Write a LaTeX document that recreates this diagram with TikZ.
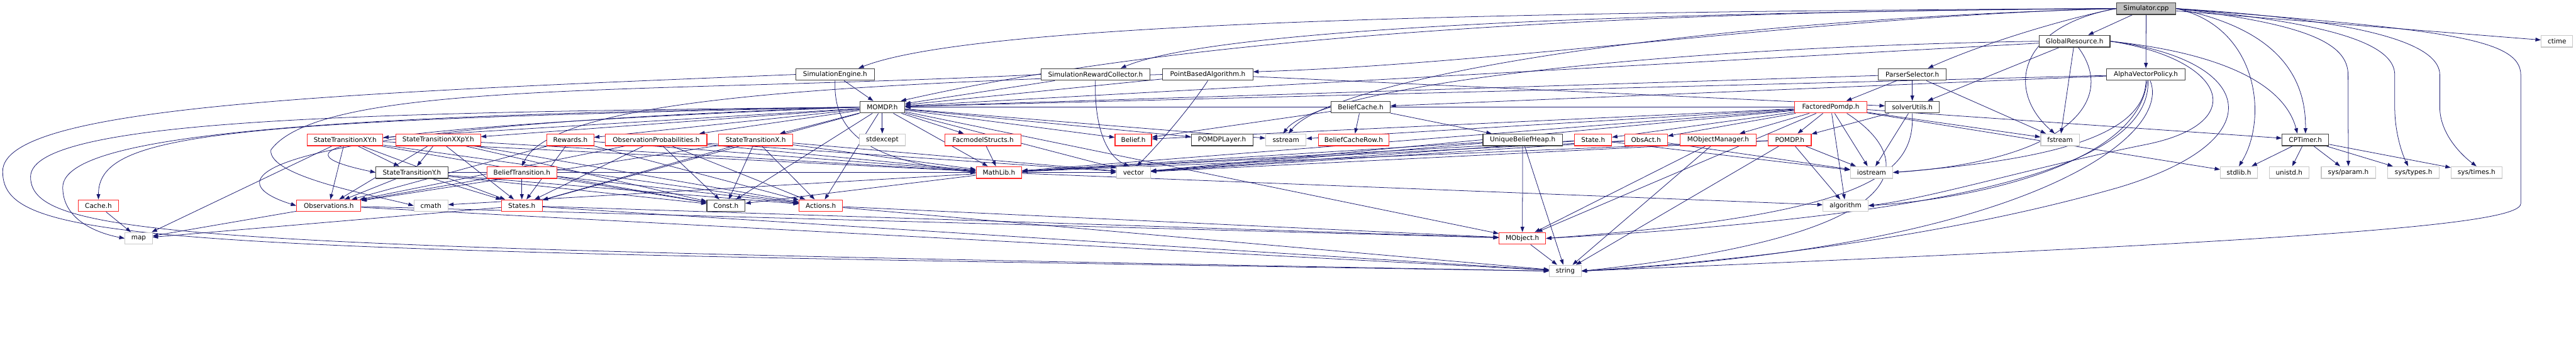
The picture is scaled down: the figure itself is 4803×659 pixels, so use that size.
\documentclass[tikz,border=0pt]{standalone}
\usepackage{fontspec}
\setmainfont{DejaVu Sans}
\usepackage{tikz}
\usetikzlibrary{arrows.meta,backgrounds}
\definecolor{edgeblue}{RGB}{25,25,112}
\definecolor{rootgrey}{RGB}{191,191,191}
\definecolor{extgrey}{RGB}{200,200,200}
\definecolor{docblack}{RGB}{64,64,64}
\definecolor{truncred}{RGB}{255,40,40}
\newcommand{\dxfont}{\fontsize{12.3bp}{14bp}\selectfont}
\tikzset{
  basebox/.style={rectangle,draw,fill=white,line width=1.3bp,align=center,font=\dxfont,minimum height=22bp,inner sep=0pt},
  rootnode/.style={basebox,fill=rootgrey,draw=docblack},
  docnode/.style={basebox,draw=docblack},
  truncnode/.style={basebox,draw=truncred},
  extnode/.style={basebox,draw=extgrey},
  arr/.style={-{Triangle[length=10bp,width=7bp]},color=edgeblue,line width=0.9bp}
}

\begin{document}
\begin{tikzpicture}[x=1bp,y=-1bp]
  \useasboundingbox (0,0) rectangle (4803,659);
  % rows 0-3
  \node[rootnode,minimum width=111bp] (sim) at (4001.5,16) {Simulator.cpp};
  \node[docnode,minimum width=132bp] (glob) at (3868,77) {GlobalResource.h};
  \node[extnode,minimum width=59bp] (ctime) at (4767.5,77) {ctime};
  \node[docnode,minimum width=146bp] (simeng) at (1557,139) {SimulationEngine.h};
  \node[docnode,minimum width=203bp] (simrew) at (2042.5,139) {SimulationRewardCollector.h};
  \node[docnode,minimum width=168bp] (pba) at (2252,139) {PointBasedAlgorithm.h};
  \node[docnode,minimum width=127bp] (parsel) at (3565.5,139) {ParserSelector.h};
  \node[docnode,minimum width=146bp] (avp) at (4001,139) {AlphaVectorPolicy.h};
  \node[docnode,minimum width=84bp] (momdp) at (1645,200) {MOMDP.h};
  \node[docnode,minimum width=110bp] (bcache) at (2537,200) {BeliefCache.h};
  \node[truncnode,minimum width=135bp] (fpomdp) at (3413.5,200) {FactoredPomdp.h};
  \node[docnode,minimum width=101bp] (sutils) at (3565.5,200) {solverUtils.h};
  % row 4
  \node[truncnode,minimum width=141bp] (stxy) at (643.5,261) {StateTransitionXY.h};
  \node[truncnode,minimum width=158bp] (stxxpy) at (817,261) {StateTransitionXXpY.h};
  \node[truncnode,minimum width=87bp] (rew) at (1063.5,261) {Rewards.h};
  \node[truncnode,minimum width=189bp] (obsprob) at (1223.5,261) {ObservationProbabilities.h};
  \node[truncnode,minimum width=138bp] (stx) at (1409,261) {StateTransitionX.h};
  \node[extnode,minimum width=86bp] (stdexc) at (1645,261) {stdexcept};
  \node[truncnode,minimum width=142bp] (facms) at (1833,261) {FacmodelStructs.h};
  \node[truncnode,minimum width=68bp] (belief) at (2113,261) {Belief.h};
  \node[docnode,minimum width=115bp] (pomdpl) at (2278.5,261) {POMDPLayer.h};
  \node[extnode,minimum width=75bp] (sstream) at (2397.5,261) {sstream};
  \node[truncnode,minimum width=132bp] (bcrow) at (2524,261) {BeliefCacheRow.h};
  \node[docnode,minimum width=148bp] (ubh) at (2839,261) {UniqueBeliefHeap.h};
  \node[truncnode,minimum width=69bp] (state) at (2970.5,261) {State.h};
  \node[truncnode,minimum width=80bp] (obsact) at (3069,261) {ObsAct.h};
  \node[truncnode,minimum width=141bp] (mom) at (3203.5,261) {MObjectManager.h};
  \node[truncnode,minimum width=80bp] (pomdp) at (3337,261) {POMDP.h};
  \node[extnode,minimum width=72bp] (fstream) at (3841,261) {fstream};
  \node[docnode,minimum width=87bp] (cptimer) at (4298.5,261) {CPTimer.h};
  % row 5
  \node[docnode,minimum width=134bp] (sty) at (768,322) {StateTransitionY.h};
  \node[truncnode,minimum width=130bp] (btrans) at (973,322) {BeliefTransition.h};
  \node[truncnode,minimum width=85bp] (mathlib) at (1862.5,322) {MathLib.h};
  \node[extnode,minimum width=63bp] (vector) at (2113.5,322) {vector};
  \node[extnode,minimum width=79bp] (iostream) at (3489.5,322) {iostream};
  \node[extnode,minimum width=69bp] (stdlib) at (4174.5,322) {stdlib.h};
  \node[extnode,minimum width=74bp] (unistd) at (4268,322) {unistd.h};
  \node[extnode,minimum width=101bp] (sysparam) at (4378.5,322) {sys/param.h};
  \node[extnode,minimum width=96bp] (systypes) at (4500,322) {sys/types.h};
  \node[extnode,minimum width=95bp] (systimes) at (4617.5,322) {sys/times.h};
  % rows 6-8
  \node[truncnode,minimum width=75bp] (cache) at (183.5,384) {Cache.h};
  \node[truncnode,minimum width=120bp] (obs) at (613,384) {Observations.h};
  \node[extnode,minimum width=63bp] (cmath) at (803.5,384) {cmath};
  \node[truncnode,minimum width=76bp] (states) at (973,384) {States.h};
  \node[docnode,minimum width=71bp] (const) at (1353.5,384) {Const.h};
  \node[truncnode,minimum width=81bp] (actions) at (1530.5,384) {Actions.h};
  \node[extnode,minimum width=84bp] (algorithm) at (3441,384) {algorithm};
  \node[extnode,minimum width=51bp] (map) at (258.5,445) {map};
  \node[truncnode,minimum width=87bp] (mobject) at (2838.5,445) {MObject.h};
  \node[extnode,minimum width=59bp] (string) at (2918.5,506) {string};

  \begin{scope}[on background layer]
  \fill[white] (0,0) rectangle (4803,659);
  % Simulator.cpp
  \foreach \a/\b in {sim/glob,sim/avp,sim/ctime} \draw[arr] (\a)--(\b);
  \draw[arr] (sim.west) .. controls (2600,22) and (1800,50) .. ([xshift=-30bp]simeng.north east);
  \draw[arr] (sim.west) .. controls (2900,24) and (2250,60) .. ([xshift=-55bp]simrew.north east);
  \draw[arr] (sim.west) .. controls (3400,30) and (2800,120) .. ([yshift=5bp]pba.east);
  \draw[arr] (sim.west) .. controls (3000,20) and (2200,70) .. ([xshift=-8bp]momdp.north east);
  \draw[arr] (sim.west) .. controls (3850,35) and (3700,80) .. ([xshift=-35bp]parsel.north east);
  \draw[arr] (sim.west) .. controls (3760,50) and (3740,170) .. ([xshift=-10bp]fstream.north);
  \draw[arr] (sim.west) .. controls (3100,40) and (2480,150) .. ([xshift=5bp]sstream.north);
  \draw[arr] (sim.east) .. controls (4210,50) and (4230,220) .. (stdlib.north);
  \draw[arr] (sim.east) .. controls (4230,50) and (4300,130) .. (cptimer.north);
  \draw[arr] (sim.east) .. controls (4300,45) and (4378,80) .. (4378,140) -- (sysparam.north);
  \draw[arr] (sim.east) .. controls (4380,45) and (4465,90) .. (4465,140) -- (4465,200)
    .. controls (4465,250) and (4480,290) .. ([xshift=-10bp]systypes.north);
  \draw[arr] (sim.east) .. controls (4450,40) and (4549,90) .. (4549,140) -- (4549,200)
    .. controls (4549,250) and (4590,290) .. (systimes.north);
  \draw[arr] (sim.east) .. controls (4550,55) and (4700,70) .. (4700,140) -- (4700,380)
    .. controls (4700,420) and (4300,450) .. (string.east);
  % GlobalResource.h
  \foreach \a/\b in {glob/sutils,glob/fstream,glob/momdp} \draw[arr] (\a)--(\b);
  \draw[arr] (glob.east) .. controls (4150,100) and (4260,160) .. ([xshift=-15bp]cptimer.north);
  \draw[arr] (glob.west) .. controls (3000,90) and (2450,170) .. ([xshift=-5bp]sstream.north);
  \draw[arr] ([xshift=7bp]glob.south) .. controls (3950,190) and (3850,300) .. (iostream.east);
  \draw[arr] (glob.east) .. controls (4150,110) and (4200,230) .. (4000,270)
    .. controls (3800,310) and (3600,370) .. (algorithm.east);
  \draw[arr] (glob.east) .. controls (4200,110) and (4250,260) .. (3950,350)
    .. controls (3600,450) and (3200,490) .. (string.east);
  % ParserSelector.h, AlphaVectorPolicy.h
  \foreach \a/\b in {parsel/fpomdp,parsel/sutils,parsel/momdp,parsel/fstream,avp/momdp,avp/bcache} \draw[arr] (\a)--(\b);
  \draw[arr] (avp.south) .. controls (4000,260) and (3800,300) .. (iostream.east);
  \draw[arr] ([xshift=2bp]avp.south) .. controls (3990,300) and (3700,370) .. (algorithm.east);
  \draw[arr] ([xshift=4bp]avp.south) .. controls (4010,300) and (3700,400) .. (mobject.east);
  \draw[arr] ([xshift=8bp]avp.south) .. controls (4050,250) and (3800,460) .. (string.east);
  % SimulationEngine.h, SimulationRewardCollector.h, PointBasedAlgorithm.h
  \foreach \a/\b in {simeng/momdp,simrew/momdp,pba/momdp,pba/sutils} \draw[arr] (\a)--(\b);
  \draw[arr] (simeng.south) .. controls (1553,250) and (1620,300) .. (mathlib.west);
  \draw[arr] (simeng.west) .. controls (600,175) and (5,200) .. (5,320)
    .. controls (5,460) and (300,465) .. (string.west);
  \draw[arr] (simrew.south) .. controls (2040,230) and (2060,290) .. ([xshift=-8bp]vector.north);
  \draw[arr] (simrew.west) .. controls (1200,175) and (600,150) .. (505,280)
    .. controls (500,330) and (700,365) .. (cmath.west);
  \draw[arr] (pba.south) .. controls (2220,200) and (2160,270) .. ([xshift=6bp]vector.north);
  \draw[arr] (pba.west) .. controls (1500,160) and (1030,190) .. (btrans.north);
  % MOMDP.h
  \foreach \a/\b in {momdp/stdexc,momdp/facms,momdp/mathlib,momdp/stx,momdp/obsprob,momdp/rew,
    momdp/stxxpy,momdp/stxy,momdp/belief,momdp/pomdpl,momdp/sstream,momdp/vector,
    momdp/states,momdp/actions,momdp/const,momdp/mobject} \draw[arr] (\a)--(\b);
  \draw[arr] (momdp.west) .. controls (400,225) and (184,250) .. (cache.north);
  \draw[arr] (momdp.west) .. controls (500,215) and (117,260) .. (117,350)
    .. controls (117,410) and (180,435) .. (map.west);
  \draw[arr] (momdp.west) .. controls (700,210) and (57,220) .. (57,330)
    .. controls (57,450) and (400,460) .. (string.west);
  \draw[arr] (momdp.west) .. controls (500,235) and (380,330) .. (obs.west);
  \draw[arr] (momdp.west) .. controls (600,240) and (500,280) .. (sty.west);
  % model headers
  \foreach \a/\b in {stxy/sty,stxy/map,stxy/obs,stxy/states,stxy/const,stxy/actions,stxy/mathlib,
    stxxpy/sty,stxxpy/states,stxxpy/obs,stxxpy/const,stxxpy/actions,stxxpy/mathlib,
    rew/states,rew/obs,rew/actions,rew/mathlib,
    obsprob/states,obsprob/obs,obsprob/const,obsprob/actions,obsprob/mathlib,obsprob/vector,
    stx/states,stx/obs,stx/const,stx/actions,stx/mathlib,stx/vector,
    sty/obs,sty/states,sty/const,sty/actions,sty/mathlib,
    btrans/states,btrans/obs,btrans/const,btrans/actions,btrans/mathlib,btrans/vector,
    facms/mathlib,cache/map,obs/map,states/map} \draw[arr] (\a)--(\b);
  \foreach \a/\b in {obs/mobject,states/mobject,actions/mobject,obs/string,states/string,actions/string,
    mathlib/cmath,mathlib/const,mathlib/algorithm,mobject/string} \draw[arr] (\a)--(\b);
  % belief cache, heap
  \foreach \a/\b in {bcache/bcrow,bcache/ubh,bcache/belief,ubh/mobject,ubh/string,ubh/vector,ubh/mathlib,
    state/iostream,state/vector,state/mathlib,obsact/iostream,obsact/vector,obsact/mathlib} \draw[arr] (\a)--(\b);
  % FactoredPomdp.h, POMDP.h, solverUtils.h
  \foreach \a/\b in {fpomdp/state,fpomdp/obsact,fpomdp/mom,fpomdp/pomdp,fpomdp/iostream,fpomdp/algorithm,
    fpomdp/mobject,fpomdp/cptimer,fpomdp/stdlib,fpomdp/fstream,fpomdp/belief,fpomdp/mathlib,
    fpomdp/vector,fpomdp/sstream,fpomdp/momdp,mom/mobject,mom/string,
    pomdp/iostream,pomdp/string,pomdp/mathlib,pomdp/vector,pomdp/algorithm,
    sutils/pomdp,sutils/iostream} \draw[arr] (\a)--(\b);
  \draw[arr] ([xshift=30bp]fpomdp.south) .. controls (3580,300) and (3580,440) .. (string.east);
  \draw[arr] (sutils.south) .. controls (3570,320) and (3500,400) .. (mobject.east);
  % CPTimer.h
  \foreach \a/\b in {cptimer/stdlib,cptimer/unistd,cptimer/sysparam,cptimer/systypes,cptimer/systimes} \draw[arr] (\a)--(\b);
  \end{scope}
\end{tikzpicture}
\end{document}
